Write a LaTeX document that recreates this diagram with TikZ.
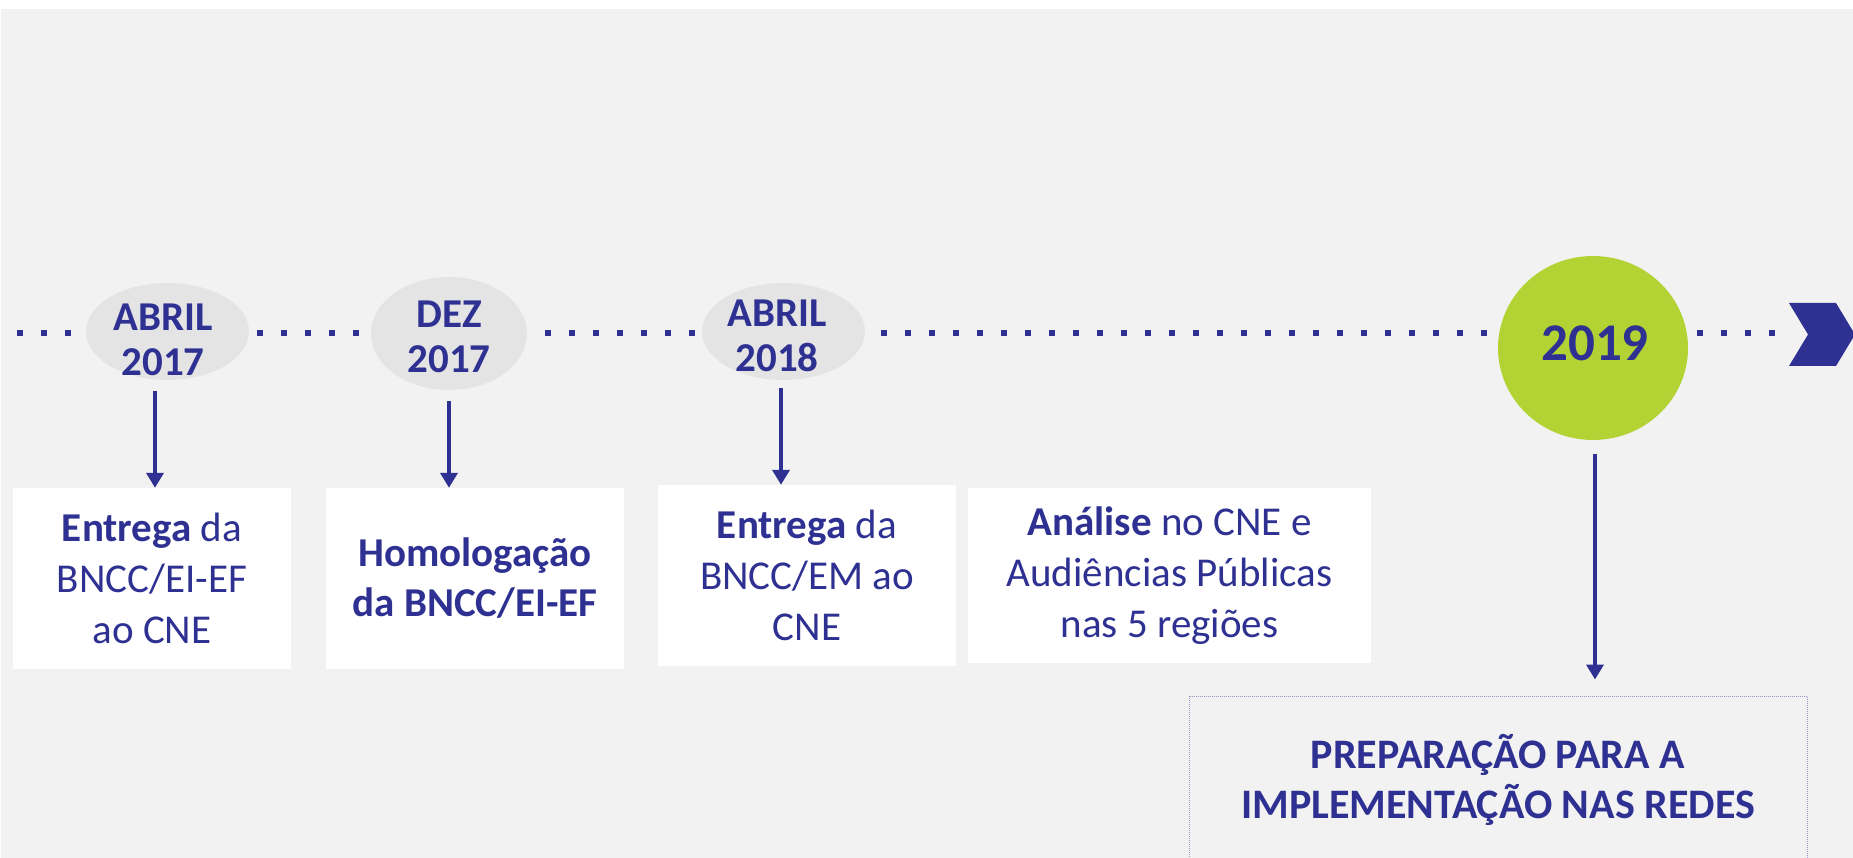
\documentclass[tikz,border=0pt]{standalone}
\usepackage{fontspec}
\setmainfont{Carlito}
\usetikzlibrary{arrows.meta,shapes.geometric}
\definecolor{navy}{RGB}{46,49,146}
\definecolor{bggray}{RGB}{242,242,242}
\definecolor{ellgray}{RGB}{228,228,228}
\definecolor{limegreen}{RGB}{179,211,53}
\definecolor{framecol}{RGB}{150,150,200}
\begin{document}
\begin{tikzpicture}[x=1pt,y=-1pt,
  datebubble/.style={ellipse, fill=ellgray, inner sep=0pt},
  datetext/.style={text=navy, font=\fontsize{41}{45}\selectfont\bfseries, align=center, inner sep=0pt},
  eventbox/.style={rectangle, fill=white, inner sep=0pt, text=navy, align=center, font=\fontsize{41}{51}\selectfont},
  arr/.style={draw=navy, line width=4pt, -{Triangle[width=17pt,length=15pt]}},
  timeline/.style={draw=navy, line width=6.5pt, dash pattern=on 6.5pt off 17.5pt}
]
\useasboundingbox (0,0) rectangle (1853,858);
\clip (0,0) rectangle (1853,858);
\fill[white] (0,0) rectangle (1853,858);
\fill[bggray] (1,9) rectangle (1853,858);

% timeline
\coordinate (ts) at (16.75,333);
\coordinate (te) at (1776,333);
\draw[timeline] (ts) -- (te);

% date bubbles
\node[datebubble, minimum width=163pt, minimum height=97pt] (e1) at (167.5,331.5) {};
\node[datebubble, minimum width=156pt, minimum height=113pt] (e2) at (449,333.5) {};
\node[datebubble, minimum width=163pt, minimum height=97pt] (e3) at (783.5,331.5) {};
\node[ellipse, fill=limegreen, inner sep=0pt, minimum width=190pt, minimum height=184pt] (e4) at (1593,348) {};

\node[datetext] (l1) at (163,339.5) {ABRIL\\2017};
\node[datetext] (l2) at (449,336.5) {DEZ\\2017};
\node[datetext] (l3) at (777,336) {ABRIL\\2018};
\node[datetext, font=\fontsize{53}{60}\selectfont\bfseries] (l4) at (1595,343) {2019};

% event boxes
\node[eventbox, minimum width=278pt, minimum height=181pt] (b1) at (152,578.5)
  {\textbf{Entrega} da\\BNCC/EI-EF\\ao CNE};
\node[eventbox, minimum width=298pt, minimum height=181pt, font=\fontsize{41}{50}\selectfont\bfseries] (b2) at (475,578.5)
  {Homologação\\da BNCC/EI-EF};
\node[eventbox, minimum width=298pt, minimum height=181pt] (b3) at (807,575.5)
  {\textbf{Entrega} da\\BNCC/EM ao\\CNE};
\node[eventbox, minimum width=403pt, minimum height=175pt] (b4) at (1169.5,575.5)
  {\textbf{Análise} no CNE e\\Audiências Públicas\\nas 5 regiões};
\node[rectangle, inner sep=0pt, draw=framecol, line width=1pt, dash pattern=on 1pt off 1pt,
  text=navy, align=center, font=\fontsize{42}{50}\selectfont\bfseries,
  minimum width=618pt, minimum height=168pt] (b5) at (1498,780)
  {PREPARAÇÃO PARA A\\IMPLEMENTAÇÃO NAS REDES};

% arrows
\draw[arr] ([xshift=-12.5pt,yshift=-11pt]e1.south) -- ([xshift=-12.5pt]e1.south |- b1.north);
\draw[arr] ([yshift=-11pt]e2.south) -- (e2.south |- b2.north);
\draw[arr] ([xshift=-2.5pt,yshift=-8pt]e3.south) -- ([xshift=-2.5pt]e3.south |- b3.north);
\draw[arr] ([xshift=2pt,yshift=-14pt]e4.south) -- ([xshift=2pt,yshift=16pt]e4.south |- b5.north);

% chevron
\fill[navy] (1789,303) -- (1836,303) -- (1855,334.5) -- (1836,366) -- (1789,366) -- (1808,334.5) -- cycle;
\end{tikzpicture}
\end{document}
